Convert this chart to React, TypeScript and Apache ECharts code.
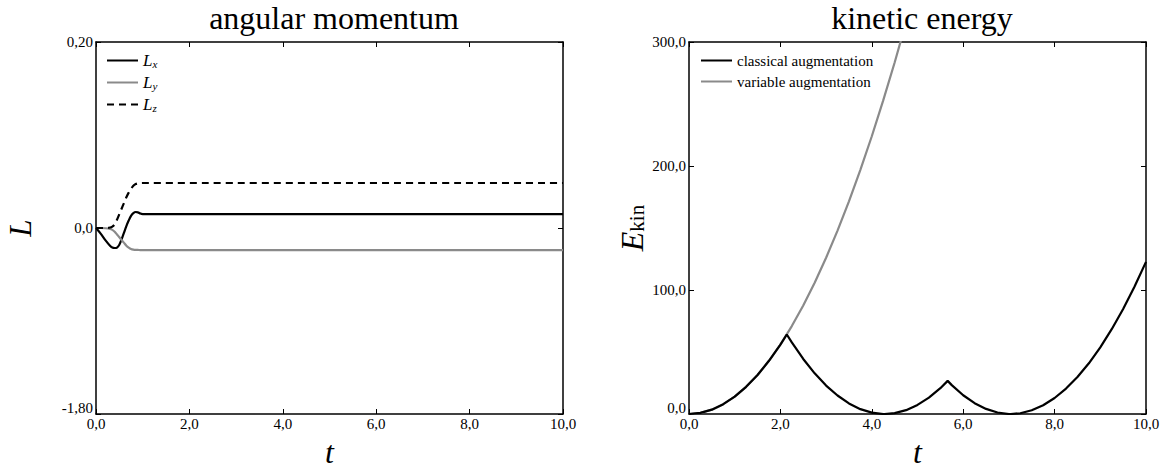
import React, { useEffect, useRef } from "react";
import * as echarts from "echarts";

// ---- left panel: angular momentum ----
const tL = [0, 0.1, 0.2, 0.3, 0.35, 0.4, 0.45, 0.5, 0.55, 0.6, 0.65, 0.7, 0.75, 0.8, 0.85, 0.9, 0.95, 1.0, 1.1, 10.0];
const Lx = [0, -0.006, -0.013, -0.019, -0.021, -0.0215, -0.021, -0.018, -0.012, -0.005, 0.002, 0.008, 0.013, 0.016, 0.0172, 0.0168, 0.0155, 0.015, 0.015, 0.015];
const Ly = [0, 0, -0.0003, -0.001, -0.002, -0.004, -0.007, -0.010, -0.013, -0.016, -0.019, -0.021, -0.0225, -0.0232, -0.0235, -0.0236, -0.0237, -0.0237, -0.0237, -0.0237];
const Lz = [0, 0, 0, 0.0005, 0.0015, 0.004, 0.009, 0.015, 0.021, 0.027, 0.033, 0.038, 0.042, 0.0455, 0.0472, 0.048, 0.0483, 0.0484, 0.0484, 0.0484];
const leftYTickLabels = ["-1,80", "0,0", "0,20"];

// ---- right panel: kinetic energy ----
const tVar = [0, 0.25, 0.5, 0.75, 1.0, 1.25, 1.5, 1.75, 2.0, 2.25, 2.5, 2.75, 3.0, 3.25, 3.5, 3.75, 4.0, 4.25, 4.5, 4.75];
const eVar = [0, 0.9, 3.5, 7.9, 14, 21.9, 31.5, 42.9, 56, 70.9, 87.5, 105.9, 126, 147.9, 171.5, 196.9, 224, 252.9, 283.5, 315.9];
const tCla = [0, 0.25, 0.5, 0.75, 1.0, 1.25, 1.5, 1.75, 2.0, 2.14, 2.25, 2.5, 2.75, 3.0, 3.25, 3.5, 3.75, 4.0, 4.25, 4.28, 4.5, 4.75, 5.0, 5.25, 5.5, 5.66, 5.75, 6.0, 6.25, 6.5, 6.75, 7.0, 7.04, 7.25, 7.5, 7.75, 8.0, 8.25, 8.5, 8.75, 9.0, 9.25, 9.5, 9.75, 10.0];
const eCla = [0, 0.9, 3.5, 7.9, 14, 21.9, 31.5, 42.9, 56, 64.1, 57.7, 44.4, 32.8, 22.9, 14.9, 8.5, 3.9, 1.1, 0.0, 0, 0.7, 3.1, 7.3, 13.2, 20.8, 26.7, 23.3, 15.1, 8.7, 4.1, 1.2, 0.0, 0, 0.6, 3.0, 7.1, 12.9, 20.5, 29.8, 40.9, 53.8, 68.4, 84.7, 102.8, 122.7];

const SERIF = "Times New Roman, Liberation Serif, serif";
const GRAY = "#8a8a8a";
const fmt = (v: number) => v.toFixed(1).replace(".", ",");
const zip = (a: number[], b: number[]) => a.map((x, i) => [x, b[i]]);

export default function App() {
  const ref = useRef<HTMLDivElement>(null);
  useEffect(() => {
    document.body.style.margin = "0";
    const chart = echarts.init(ref.current!, null, { renderer: "svg" });
    const axisLine = { show: true, onZero: false, lineStyle: { color: "#000", width: 1.5 } };
    const tick = { show: true, inside: true, length: 5, lineStyle: { color: "#000", width: 1 } };
    const lab = { color: "#000", fontFamily: SERIF, fontSize: 15 };
    const xBase = (grid: number) => ({
      type: "value", gridIndex: grid, min: 0, max: 10, interval: 2,
      axisLine, axisTick: tick, splitLine: { show: false },
    });
    const tName = { fontFamily: SERIF, fontStyle: "italic", fontSize: 32, lineHeight: 28, color: "#000" };
    const sub = {
      b: { fontFamily: SERIF, fontStyle: "italic", fontSize: 17, lineHeight: 18, color: "#000" },
      s: { fontFamily: SERIF, fontStyle: "italic", fontSize: 11, lineHeight: 12, color: "#000", padding: [6, 0, 0, 0] },
    };
    const yRich = {
      low: { fontFamily: SERIF, fontSize: 15, color: "#000", padding: [0, 0, 12, 0] },
      n: { fontFamily: SERIF, fontSize: 15, color: "#000" },
    };
    const titleStyle = { fontFamily: SERIF, fontSize: 32, fontWeight: "normal", color: "#000" };
    chart.setOption({
      animation: false,
      title: [
        { text: "angular momentum", left: 329, top: -3, textAlign: "center", textStyle: titleStyle },
        { text: "kinetic energy", left: 917, top: -3, textAlign: "center", textStyle: titleStyle },
      ],
      grid: [
        { left: 96, right: 604, top: 42, bottom: 50, outerBoundsMode: "none", containLabel: false },
        { left: 689, right: 21, top: 42, bottom: 50, outerBoundsMode: "none", containLabel: false },
      ],
      xAxis: [
        { ...xBase(0), position: "bottom", axisLabel: { ...lab, formatter: fmt, margin: 2 },
          name: "t", nameLocation: "middle", nameGap: 10, nameTextStyle: tName },
        { ...xBase(0), position: "top", axisLabel: { show: false } },
        { ...xBase(1), position: "bottom", axisLabel: { ...lab, formatter: fmt, margin: 2 },
          name: "t", nameLocation: "middle", nameGap: 10, nameTextStyle: tName },
        { ...xBase(1), position: "top", axisLabel: { show: false } },
      ],
      yAxis: [
        { type: "value", gridIndex: 0, min: -0.2, max: 0.2, interval: 0.2, position: "left",
          axisLine, axisTick: tick, splitLine: { show: false },
          axisLabel: { margin: 3, rich: yRich, formatter: (_v: number, i: number) => (i === 0 ? `{low|${leftYTickLabels[i]}}` : `{n|${leftYTickLabels[i]}}`) },
          name: "L", nameLocation: "middle", nameRotate: 90, nameGap: 60,
          nameTextStyle: { fontFamily: SERIF, fontStyle: "italic", fontSize: 31, color: "#000" } },
        { type: "value", gridIndex: 0, min: -0.2, max: 0.2, interval: 0.2, position: "right",
          axisLine, axisTick: tick, splitLine: { show: false }, axisLabel: { show: false } },
        { type: "value", gridIndex: 1, min: 0, max: 300, interval: 100, position: "left",
          axisLine, axisTick: tick, splitLine: { show: false },
          axisLabel: { margin: 3, rich: yRich, formatter: (v: number, i: number) => (i === 0 ? `{low|${fmt(v)}}` : `{n|${fmt(v)}}`) },
          name: "{E|E}{k|kin}", nameLocation: "middle", nameRotate: 90, nameGap: 32,
          nameTextStyle: { color: "#000", rich: {
            E: { fontFamily: SERIF, fontStyle: "italic", fontSize: 32, color: "#000" },
            k: { fontFamily: SERIF, fontSize: 21, color: "#000", padding: [10, 0, 0, 0] },
          } } },
        { type: "value", gridIndex: 1, min: 0, max: 300, interval: 100, position: "right",
          axisLine, axisTick: tick, splitLine: { show: false }, axisLabel: { show: false } },
      ],
      legend: [
        { data: ["Lx", "Ly", "Lz"], orient: "vertical", left: 106, top: 52, padding: 0, itemWidth: 31, itemHeight: 14, itemGap: 5,
          formatter: (n: string) => `{b|L}{s|${n.slice(1)}}`, textStyle: { rich: sub }, itemStyle: { opacity: 0 }, selectedMode: false },
        { data: ["classical augmentation", "variable augmentation"], orient: "vertical", left: 700, top: 53, padding: 0, itemWidth: 31, itemHeight: 12, itemGap: 6,
          textStyle: { fontFamily: SERIF, fontSize: 15, color: "#000" }, itemStyle: { opacity: 0 }, selectedMode: false },
      ],
      series: [
        { name: "Lx", type: "line", xAxisIndex: 0, yAxisIndex: 0, data: zip(tL, Lx), smooth: 0.3, symbol: "none", lineStyle: { color: "#000", width: 2.2 }, itemStyle: { color: "#000" } },
        { name: "Ly", type: "line", xAxisIndex: 0, yAxisIndex: 0, data: zip(tL, Ly), smooth: 0.3, symbol: "none", lineStyle: { color: GRAY, width: 2.2 }, itemStyle: { color: GRAY } },
        { name: "Lz", type: "line", xAxisIndex: 0, yAxisIndex: 0, data: zip(tL, Lz), smooth: 0.3, symbol: "none", lineStyle: { color: "#000", width: 2.2, type: [7, 5] }, itemStyle: { color: "#000" } },
        { name: "variable augmentation", type: "line", xAxisIndex: 2, yAxisIndex: 2, data: zip(tVar, eVar), symbol: "none", clip: true, lineStyle: { color: GRAY, width: 2.2 }, itemStyle: { color: GRAY } },
        { name: "classical augmentation", type: "line", xAxisIndex: 2, yAxisIndex: 2, data: zip(tCla, eCla), symbol: "none", clip: true, lineStyle: { color: "#000", width: 2.2 }, itemStyle: { color: "#000" } },
      ],
    });
    return () => chart.dispose();
  }, []);
  return <div ref={ref} style={{ width: 1167, height: 464 }} />;
}
